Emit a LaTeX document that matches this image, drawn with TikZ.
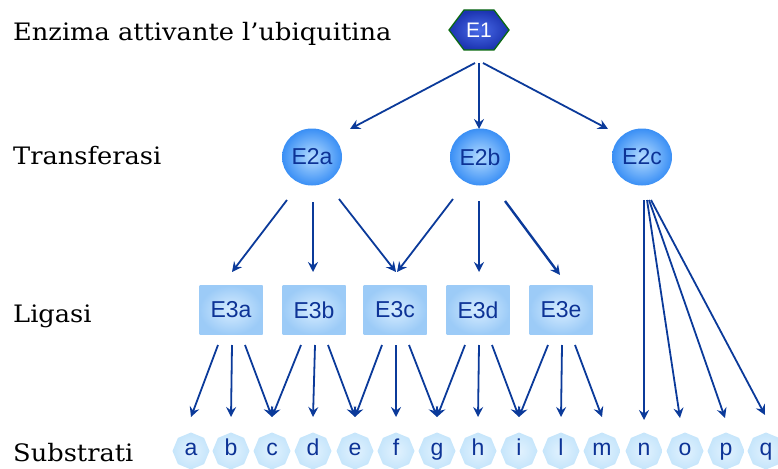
\documentclass[tikz,border=0pt]{standalone}
\usepackage{fontspec}
\setmainfont[FakeStretch=1.07]{DejaVu Serif}
\newfontfamily\nodefont{Liberation Sans}
\usetikzlibrary{calc,shapes.geometric,arrows.meta}
\definecolor{arrblue}{HTML}{0B3A9A}
\definecolor{txtblue}{HTML}{0D3396}
\definecolor{circout}{HTML}{3A8FF5}
\definecolor{circin}{HTML}{B5DCFF}
\definecolor{boxout}{HTML}{9CCBF7}
\definecolor{boxin}{HTML}{D6ECFF}
\definecolor{octout}{HTML}{C5E5FB}
\definecolor{octin}{HTML}{E2F2FE}
\definecolor{hexout}{HTML}{1B33B0}
\definecolor{hexin}{HTML}{4A6BE8}
\definecolor{hexborder}{HTML}{0B6A10}
\begin{document}
\begin{tikzpicture}[x=1pt,y=-1pt,
  lbl/.style={anchor=base west,inner sep=0pt,font=\fontsize{24}{28}\selectfont},
  enz/.style={font=\nodefont\fontsize{23}{26}\selectfont,text=txtblue,inner sep=0pt},
  circnode/.style={enz,circle,minimum width=60pt,minimum height=57pt,ellipse,inner color=circin,outer color=circout},
  boxnode/.style={enz,rectangle,minimum width=63pt,minimum height=49pt,inner color=boxin,outer color=boxout},
  octnode/.style={enz,regular polygon,regular polygon sides=8,shape border rotate=22.5,minimum size=37pt,inner color=octin,outer color=octout,font=\nodefont\fontsize{23}{24}\selectfont},
  arr/.style={draw=arrblue,line width=1.8pt,-{Stealth[length=10pt,width=10pt,inset=3.5pt]}},
]
\useasboundingbox (0,0) rectangle (778,468);
% labels
\node[lbl] (L1) at (13,41) {Enzima attivante l’ubiquitina};
\node[lbl] (L2) at (13,164) {Transferasi};
\node[lbl] (L3) at (13,322) {Ligasi};
\node[lbl] (L4) at (13,461) {Substrati};
% E1 hexagon
\coordinate (E1) at (479,30);
\draw[line width=1.3pt,draw=hexborder,inner color=hexin,outer color=hexout]
  ($(E1)+(-30,0)$) -- ($(E1)+(-15,-20)$) -- ($(E1)+(15,-20)$) -- ($(E1)+(30,0)$)
  -- ($(E1)+(15,20)$) -- ($(E1)+(-15,20)$) -- cycle;
\node[enz,text=white,font=\nodefont\fontsize{21}{24}\selectfont] (E1t) at (E1) {E1};
% E2
\node[circnode] (E2a) at (312,157) {E2a};
\node[circnode] (E2b) at (480,157) {E2b};
\node[circnode] (E2c) at (642,157) {E2c};
% E3
\node[boxnode] (E3a) at (231,310) {E3a};
\node[boxnode] (E3b) at (314,310) {E3b};
\node[boxnode] (E3c) at (395,310) {E3c};
\node[boxnode] (E3d) at (478,310) {E3d};
\node[boxnode] (E3e) at (561,310) {E3e};
% substrates
\foreach \n/\x in {a/191,b/231,c/272,d/313,e/355,f/396,g/437,h/478,i/519,l/561,m/602,n/644,o/685,p/726,q/766}
  \node[octnode] (\n) at (\x,451) {\strut\n};
% E1 arrows
\draw[arr] ($(E1)+(-4,33)$) -- ($(E2a)+(38,-28)$);
\draw[arr] ($(E1)+(0,33)$) -- ($(E2b)+(-1,-28)$);
\draw[arr] ($(E1)+(4,33)$) -- ($(E2c)+(-34,-28)$);
% E2 arrows
\draw[arr] ($(E2a)+(-25,43)$) -- ($(E3a)+(1,-38)$);
\draw[arr] ($(E2a)+(1,45)$) -- ($(E3b)+(-1,-38)$);
\draw[arr] ($(E2a)+(27,42)$) -- ($(E3c)+(1,-38)$);
\draw[arr] ($(E2b)+(-27,42)$) -- ($(E3c)+(2,-38)$);
\draw[arr] ($(E2b)+(-1,44)$) -- ($(E3d)+(1,-38)$);
\draw[arr,line width=2.4pt] ($(E2b)+(25,44)$) -- ($(E3e)+(-1,-35)$);
\draw[arr] ($(E2c)+(2,43)$) -- ($(n)+(0,-31)$);
\draw[arr] ($(E2c)+(5,43)$) -- ($(o)+(-5,-33)$);
\draw[arr] ($(E2c)+(7,43)$) -- ($(p)+(-1,-33)$);
\draw[arr] ($(E2c)+(9,43)$) -- ($(q)+(-1,-36)$);
% E3 arrows
\foreach \src/\l/\m/\r in {E3a/a/b/c,E3b/c/d/e,E3c/e/f/g,E3d/g/h/i,E3e/i/l/m}{
  \draw[arr] ($(\src)+(-13,35)$) -- ($(\l)+(0,-34)$);
  \draw[arr] ($(\src)+(1,35)$) -- ($(\m)+(0,-34)$);
  \draw[arr] ($(\src)+(14,35)$) -- ($(\r)+(0,-34)$);
}
\end{tikzpicture}
\end{document}
